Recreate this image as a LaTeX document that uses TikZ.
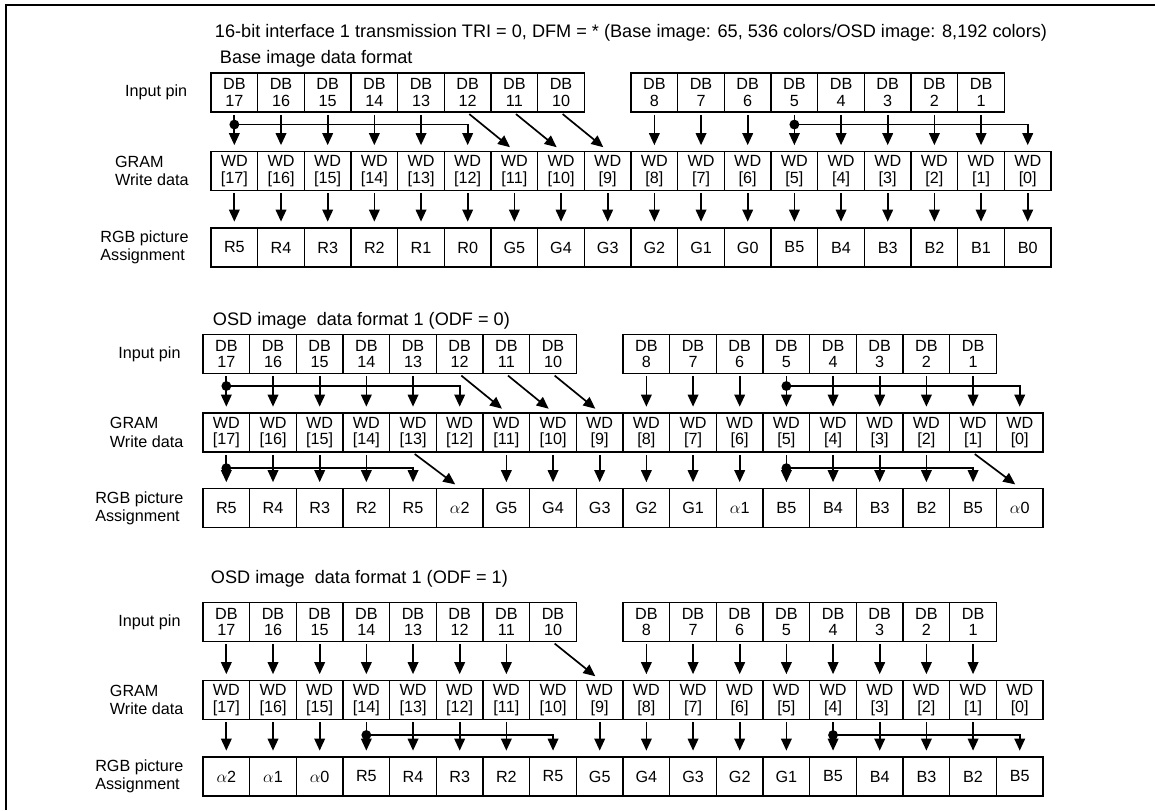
\documentclass[tikz,border=0pt]{standalone}
\usepackage{fontspec}
\setmainfont{Liberation Sans}
\usepackage{tikz}
\usetikzlibrary{arrows.meta, positioning, calc}

\begin{document}
\begin{tikzpicture}[x=0.025cm, y=-0.025cm,
    every node/.style={font=\fontsize{11.5}{11.6}\selectfont},
    cell/.style={draw, line width=0.9pt, minimum width=1.1667cm, minimum height=0.98cm, inner sep=0pt, align=center},
    rowlabel/.style={align=left, font=\fontsize{11.5}{13}\selectfont},
    title/.style={anchor=base west, font=\fontsize{12.9}{15}\selectfont},
    link/.style={-{Triangle[length=8.5pt, width=7.5pt]}, line width=1.2pt, shorten <=1.5pt, shorten >=4pt},
    joint/.style={circle, fill, inner sep=0pt, minimum size=7pt}]
    \useasboundingbox (0,0) rectangle (1155,810);
    \draw[line width=2pt] (6,810) -- (6,5) -- (1155,5);

    % Section 1: base image
    \node[title] (t1) at (210,37) {16-bit interface 1 transmission TRI = 0, DFM = * (Base image: 65, 536 colors/OSD image: 8,192 colors)};
    \node[title] (t1b) at (215,63) {Base image data format};
    \foreach \n in {17,16,...,10,8,7,...,1}
        \node[cell] (s1p\n) at ({211+(17.5-\n)*46.67}, 92.5) {DB\\\n};
    \foreach \n in {17,16,...,0}
        \node[cell] (s1w\n) at ({211+(17.5-\n)*46.67}, 171) {WD\\{[}\n]};
    \foreach \t [count=\i from 0] in {R5,R4,R3,R2,R1,R0,G5,G4,G3,G2,G1,G0,B5,B4,B3,B2,B1,B0} {
        \pgfmathtruncatemacro\n{17-\i}
        \node[cell] (s1c\n) at ({211+(\i+0.5)*46.67}, 247.5) {\t};
    }
    \node[rowlabel, left=13pt of s1p17] (s1lp) {Input pin};
    \node[rowlabel, left=12pt of s1w17] (s1lw) {GRAM\\Write data};
    \node[rowlabel, left=12pt of s1c17] (s1lc) {RGB picture\\Assignment};
    % pins to write data
    \foreach \n in {17,16,...,13,8,7,...,1}
        \draw[link] (s1p\n.south) -- (s1w\n.north);
    \foreach \n/\m in {12/11,11/10,10/9}
        \draw[link] (s1p\n.south) -- (s1w\m.north);
    \node[joint] (s1j17) at ($(s1p17.south)!0.31!(s1w17.north)$) {};
    \node[joint] (s1j5) at ($(s1p5.south)!0.31!(s1w5.north)$) {};
    \draw[link] (s1j17.center) -| (s1w12.north);
    \draw[link] (s1j5.center) -| (s1w0.north);
    % write data to RGB
    \foreach \n in {17,16,...,0}
        \draw[link] (s1w\n.south) -- (s1c\n.north);

    % Section 2: OSD image, ODF = 0
    \node[title] (t2) at (208,325) {OSD image\ \ data format 1 (ODF = 0)};
    \foreach \n in {17,16,...,10,8,7,...,1}
        \node[cell] (s2p\n) at ({203+(17.5-\n)*46.67}, 354) {DB\\\n};
    \foreach \n in {17,16,...,0}
        \node[cell] (s2w\n) at ({203+(17.5-\n)*46.67}, 432.5) {WD\\{[}\n]};
    \foreach \t [count=\i from 0] in {R5,R4,R3,R2,R5,$\alpha$2,G5,G4,G3,G2,G1,$\alpha$1,B5,B4,B3,B2,B5,$\alpha$0} {
        \pgfmathtruncatemacro\n{17-\i}
        \node[cell] (s2c\n) at ({203+(\i+0.5)*46.67}, 508) {\t};
    }
    \node[rowlabel, left=12pt of s2p17] (s2lp) {Input pin};
    \node[rowlabel, left=10pt of s2w17] (s2lw) {GRAM\\Write data};
    \node[rowlabel, left=10pt of s2c17] (s2lc) {RGB picture\\Assignment};
    % pins to write data
    \foreach \n in {17,16,...,13,8,7,...,1}
        \draw[link] (s2p\n.south) -- (s2w\n.north);
    \foreach \n/\m in {12/11,11/10,10/9}
        \draw[link] (s2p\n.south) -- (s2w\m.north);
    \node[joint] (s2j17) at ($(s2p17.south)!0.31!(s2w17.north)$) {};
    \node[joint] (s2j5) at ($(s2p5.south)!0.31!(s2w5.north)$) {};
    \draw[link] (s2j17.center) -| (s2w12.north);
    \draw[link] (s2j5.center) -| (s2w0.north);
    % write data to RGB
    \foreach \n in {17,16,15,14,11,10,...,2}
        \draw[link] (s2w\n.south) -- (s2c\n.north);
    \foreach \n/\m in {13/12,1/0}
        \draw[link] (s2w\n.south) -- (s2c\m.north);
    \node[joint] (s2k17) at ($(s2w17.south)!0.44!(s2c17.north)$) {};
    \node[joint] (s2k5) at ($(s2w5.south)!0.44!(s2c5.north)$) {};
    \draw[link] (s2k17.center) -| (s2c13.north);
    \draw[link] (s2k5.center) -| (s2c1.north);

    % Section 3: OSD image, ODF = 1
    \node[title] (t3) at (206,583) {OSD image\ \ data format 1 (ODF = 1)};
    \foreach \n in {17,16,...,10,8,7,...,1}
        \node[cell] (s3p\n) at ({203+(17.5-\n)*46.67}, 622) {DB\\\n};
    \foreach \n in {17,16,...,0}
        \node[cell] (s3w\n) at ({203+(17.5-\n)*46.67}, 700) {WD\\{[}\n]};
    \foreach \t [count=\i from 0] in {$\alpha$2,$\alpha$1,$\alpha$0,R5,R4,R3,R2,R5,G5,G4,G3,G2,G1,B5,B4,B3,B2,B5} {
        \pgfmathtruncatemacro\n{17-\i}
        \node[cell] (s3c\n) at ({203+(\i+0.5)*46.67}, 776.5) {\t};
    }
    \node[rowlabel, left=12pt of s3p17] (s3lp) {Input pin};
    \node[rowlabel, left=10pt of s3w17] (s3lw) {GRAM\\Write data};
    \node[rowlabel, left=10pt of s3c17] (s3lc) {RGB picture\\Assignment};
    % pins to write data
    \foreach \n in {17,16,...,11,8,7,...,1}
        \draw[link] (s3p\n.south) -- (s3w\n.north);
    \draw[link] (s3p10.south) -- (s3w9.north);
    % write data to RGB
    \foreach \n in {17,16,...,11,9,8,...,1}
        \draw[link] (s3w\n.south) -- (s3c\n.north);
    \node[joint] (s3k14) at ($(s3w14.south)!0.41!(s3c14.north)$) {};
    \node[joint] (s3k4) at ($(s3w4.south)!0.41!(s3c4.north)$) {};
    \draw[link] (s3k14.center) -| (s3c10.north);
    \draw[link] (s3k4.center) -| (s3c0.north);
\end{tikzpicture}
\end{document}
